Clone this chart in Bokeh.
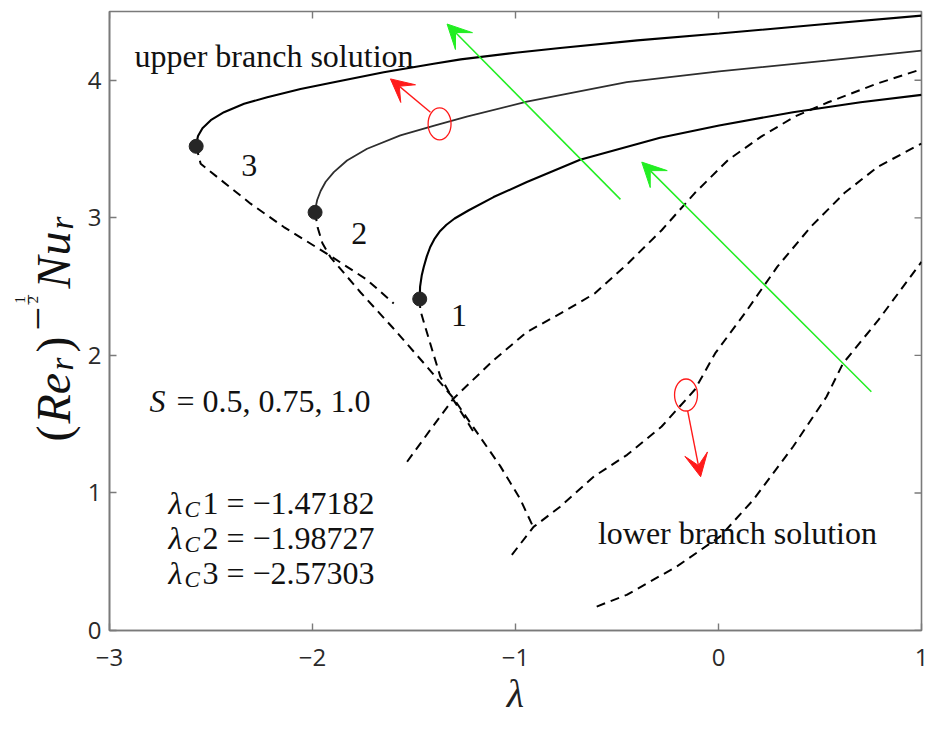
import numpy as np
from bokeh.plotting import figure
from bokeh.layouts import row
from bokeh.models import Range1d, FixedTicker, Label, Arrow, VeeHead
from bokeh.core.properties import value
from bokeh.embed import file_html
from bokeh.resources import INLINE

# ---------------- data ----------------
x_ticks = [-3, -2, -1, 0, 1]
x_tick_labels = ["\u22123", "\u22122", "\u22121", "0", "1"]
y_ticks = [0, 1, 2, 3, 4]
y_tick_labels = ["0", "1", "2", "3", "4"]

case_labels = ["1", "2", "3"]
lambda_c = [-1.47182, -1.98727, -2.57303]
nu_c = [2.41, 3.04, 3.52]

# upper branch (solid)
upper1_x = [-1.47182, -1.470, -1.462, -1.452, -1.437, -1.420, -1.400, -1.371, -1.340, -1.300, -1.230, -1.108, -0.944, -0.682, -0.288, 0.003, 0.367, 0.700, 1.000]
upper1_y = [2.41, 2.50, 2.58, 2.643, 2.72, 2.788, 2.845, 2.905, 2.95, 2.995, 3.055, 3.151, 3.260, 3.422, 3.582, 3.671, 3.768, 3.840, 3.894]

upper2_x = [-1.98727, -1.984, -1.977, -1.960, -1.935, -1.895, -1.830, -1.731, -1.567, -1.400, -1.240, -0.944, -0.452, 0.003, 0.532, 1.000]
upper2_y = [3.04, 3.08, 3.13, 3.195, 3.262, 3.332, 3.417, 3.502, 3.599, 3.671, 3.735, 3.845, 3.986, 4.065, 4.143, 4.216]

upper3_x = [-2.57303, -2.569, -2.564, -2.542, -2.501, -2.436, -2.337, -2.223, -2.059, -1.895, -1.649, -1.403, -1.270, -1.000, -0.780, -0.400, 0.003, 0.500, 1.000]
upper3_y = [3.52, 3.56, 3.595, 3.652, 3.71, 3.768, 3.829, 3.877, 3.937, 3.986, 4.058, 4.120, 4.152, 4.200, 4.235, 4.290, 4.340, 4.405, 4.470]

# lower branch (dashed) - descending parts from the turning points
low1a_x = [-1.47182, -1.469, -1.420, -1.370, -1.305, -1.207]
low1a_y = [2.41, 2.328, 2.086, 1.844, 1.675, 1.445]

low2a_x = [-1.98727, -1.975, -1.951, -1.911, -1.764, -1.602, -1.434, -1.306, -1.208, -1.075, -0.977, -0.913]
low2a_y = [3.04, 2.931, 2.815, 2.713, 2.459, 2.197, 1.914, 1.689, 1.478, 1.195, 0.956, 0.753]

low3a_x = [-2.57303, -2.551, -2.469, -2.305, -2.141, -1.895, -1.731, -1.600]
low3a_y = [3.52, 3.393, 3.296, 3.103, 2.933, 2.707, 2.549, 2.377]

# lower branch (dashed) - rising parts
low1b_x = [-1.534, -1.420, -1.305, -1.108, -0.944, -0.776, -0.610, -0.445, -0.280, -0.117, 0.047, 0.210, 0.376, 0.540, 0.787, 1.000]
low1b_y = [1.227, 1.458, 1.687, 1.965, 2.170, 2.307, 2.450, 2.670, 2.910, 3.180, 3.420, 3.590, 3.736, 3.840, 3.979, 4.080]

low2b_x = [-1.018, -0.911, -0.780, -0.613, -0.450, -0.280, -0.117, -0.016, 0.130, 0.290, 0.456, 0.620, 0.787, 1.000]
low2b_y = [0.550, 0.753, 0.900, 1.120, 1.277, 1.483, 1.750, 2.016, 2.307, 2.645, 2.937, 3.180, 3.373, 3.540]

low3b_x = [-0.600, -0.452, -0.206, 0.007, 0.171, 0.367, 0.532, 0.613, 0.787, 1.000]
low3b_y = [0.174, 0.259, 0.465, 0.682, 0.949, 1.336, 1.699, 1.941, 2.256, 2.680]

# ---------------- layout (page pixels) ----------------
W, H = 929, 729
LW = 84                      # width of the strip holding the y-axis title
XMIN, XMAX, YMIN, YMAX = -3.0, 1.0, 0.0, 4.5
FL, FR, FT, FB = 108, 921, 11, 630

def dx(px):
    return XMIN + (px - FL) / (FR - FL) * (XMAX - XMIN)

def dy(py):
    return YMIN + (FB - py) / (FB - FT) * (YMAX - YMIN)

AX = "#7a7a7a"
SERIF = "Liberation Serif"

p = figure(width=W - LW, height=H, output_backend="svg", toolbar_location=None,
           x_range=Range1d(XMIN, XMAX), y_range=Range1d(YMIN, YMAX),
           min_border_left=FL - LW, min_border_right=W - FR, min_border_top=FT,
           min_border_bottom=H - FB, background_fill_color="white",
           border_fill_color="white")
p.grid.visible = False
p.outline_line_color = AX
p.outline_line_width = 1.6

for ax in (p.xaxis[0], p.yaxis[0]):
    ax.axis_line_color = AX
    ax.axis_line_width = 1.6
    ax.major_tick_line_color = AX
    ax.major_tick_line_width = 1.4
    ax.major_tick_in = 7
    ax.major_tick_out = 0
    ax.minor_tick_line_color = None
    ax.major_label_text_font = "Open Sans"
    ax.major_label_text_font_size = "24px"
    ax.major_label_text_color = "#2a2a2a"

p.xaxis.ticker = FixedTicker(ticks=x_ticks)
p.xaxis.major_label_overrides = {t: l for t, l in zip(x_ticks, x_tick_labels)}
p.yaxis.ticker = FixedTicker(ticks=y_ticks)
p.yaxis.major_label_overrides = {t: l for t, l in zip(y_ticks, y_tick_labels)}
p.xaxis.major_label_standoff = 18
p.yaxis.major_label_standoff = 8
p.xaxis.axis_label = "\u03bb"
p.xaxis.axis_label_text_font = SERIF
p.xaxis.axis_label_text_font_style = "italic"
p.xaxis.axis_label_text_font_size = "40px"
p.xaxis.axis_label_text_color = "#222222"
p.xaxis.axis_label_standoff = 2

# inner ticks on top and right sides of the box
tick_dy = 7 * (YMAX - YMIN) / (FB - FT)
tick_dx = 7 * (XMAX - XMIN) / (FR - FL)
p.segment(x0=x_ticks, y0=[YMAX] * len(x_ticks), x1=x_ticks, y1=[YMAX - tick_dy] * len(x_ticks),
          line_color=AX, line_width=1.4)
p.segment(x0=[XMAX] * len(y_ticks), y0=y_ticks, x1=[XMAX - tick_dx] * len(y_ticks), y1=y_ticks,
          line_color=AX, line_width=1.4)

# ---------------- curves ----------------
DASH = "9 6"
for xs, ys in [(low1a_x, low1a_y), (low2a_x, low2a_y), (low3a_x, low3a_y),
               (low1b_x, low1b_y), (low2b_x, low2b_y), (low3b_x, low3b_y)]:
    p.line(xs, ys, line_color="black", line_width=2, line_dash=DASH)

p.line(upper1_x, upper1_y, line_color="black", line_width=2.1)
p.line(upper2_x, upper2_y, line_color="#2e2e2e", line_width=1.8)
p.line(upper3_x, upper3_y, line_color="black", line_width=2.1)

p.scatter(lambda_c, nu_c, size=14, color="#262626")

# ---------------- annotations ----------------
GREEN = "#22ee22"
RED = "#ff1a1a"
p.add_layout(Arrow(x_start=-0.483, y_start=3.134, x_end=-1.337, y_end=4.409,
                   line_color=GREEN, line_width=1.5,
                   end=VeeHead(size=24, fill_color=GREEN, line_color=GREEN)))
p.add_layout(Arrow(x_start=0.753, y_start=1.735, x_end=-0.378, y_end=3.405,
                   line_color=GREEN, line_width=1.5,
                   end=VeeHead(size=24, fill_color=GREEN, line_color=GREEN)))

ell_x = [-1.374, -0.160]
ell_y = [3.683, 1.712]
p.ellipse(ell_x, ell_y, width=0.113, height=0.233, fill_color=None,
          line_color=RED, line_width=1.3)
p.add_layout(Arrow(x_start=-1.419, y_start=3.768, x_end=-1.616, y_end=4.010,
                   line_color=RED, line_width=1.4,
                   end=VeeHead(size=23, fill_color=RED, line_color=RED)))
p.add_layout(Arrow(x_start=-0.152, y_start=1.597, x_end=-0.088, y_end=1.118,
                   line_color=RED, line_width=1.4,
                   end=VeeHead(size=23, fill_color=RED, line_color=RED)))

def plab(px, py, text, size=32, style="normal"):
    p.add_layout(Label(x=dx(px), y=dy(py), text=text, text_font=SERIF,
                       text_font_size=f"{size}px", text_font_style=style,
                       text_color="#111111", text_align="left",
                       text_baseline="alphabetic"))

plab(133, 55, "upper branch solution")
plab(597, 532, "lower branch solution")
plab(240, 165, case_labels[2])
plab(350, 233, case_labels[1])
plab(450, 315, case_labels[0])

plab(148, 400, "S", style="italic")
plab(175, 400, "= 0.5, 0.75, 1.0")

for i, (py, val) in enumerate(zip([502, 537, 572], lambda_c)):
    plab(167, py, "\u03bb", style="italic")
    plab(183, py + 7, "C", size=23, style="italic")
    plab(201, py, f"{i + 1} = \u2212{abs(val):.5f}")

# ---------------- y-axis title strip: (Re_r)^{-1/2} Nu_r ----------------
# the strip's frame is aligned with the main frame (page rows FT..FB)
yl = figure(width=LW, height=H, output_backend="svg", toolbar_location=None,
            x_range=Range1d(0, LW), y_range=Range1d(FB, FT),
            x_axis_type=None, y_axis_type=None, min_border=0,
            background_fill_color="white", border_fill_color="white")
yl.grid.visible = False
yl.outline_line_color = None

R = np.pi / 2
BX = 53          # baseline column of the rotated title
def ylab(px, py, text, size, style):
    yl.text(x=[px], y=[py], text=[text], angle=R,
            text_font=value(SERIF), text_font_size=value(f"{size}px"),
            text_font_style=value(style), text_color="#111111",
            text_align="left", text_baseline="alphabetic")

ylab(BX, 441, "(", 48, "normal")
ylab(BX, 423, "Re", 48, "italic")
ylab(BX + 8, 370, "r", 33, "italic")
ylab(BX, 352, ")", 48, "normal")
ylab(BX - 16, 330, "\u2212", 42, "normal")
ylab(BX - 33.5, 303, "1", 15, "normal")
ylab(BX - 27.5, 304, "\u2013", 19, "normal")
ylab(BX - 20.5, 303, "2", 15, "normal")
ylab(BX, 288, "N", 48, "italic")
ylab(BX, 255, "u", 48, "italic")
ylab(BX + 8, 229, "r", 33, "italic")

open("out.html", "w").write(file_html(row(yl, p), INLINE))
